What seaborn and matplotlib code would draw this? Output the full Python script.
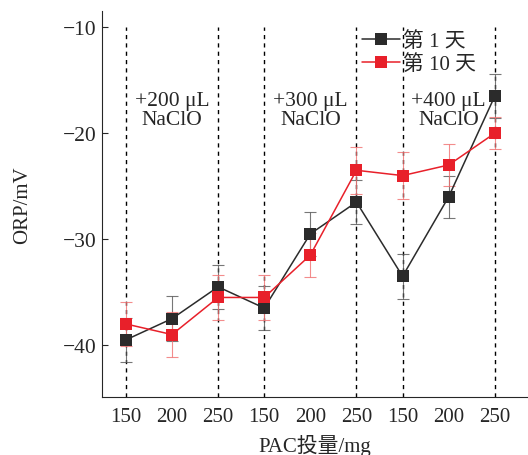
import matplotlib
matplotlib.use("Agg")
import matplotlib.pyplot as plt
import seaborn as sns
import numpy as np
import pandas as pd

tick_labels = ["150", "200", "250", "150", "200", "250", "150", "200", "250"]
day1 = [-39.5, -37.5, -34.5, -36.5, -29.5, -26.5, -33.5, -26.0, -16.5]
day1_err = [2.1, 2.1, 2.1, 2.1, 2.1, 2.1, 2.1, 2.0, 2.1]
day10 = [-38.0, -39.0, -35.5, -35.5, -31.5, -23.5, -24.0, -23.0, -20.0]
day10_err = [2.1, 2.1, 2.1, 2.1, 2.1, 2.2, 2.2, 2.0, 1.5]
series_names = ["第 1 天", "第 10 天"]
annotations = ["+200 μL\nNaClO", "+300 μL\nNaClO", "+400 μL\nNaClO"]
annot_pos = [1, 4, 7]
dashed_pos = [0, 2, 3, 5, 6, 8]

sns.set_style("ticks")
plt.rcParams['font.family'] = ['Liberation Serif', 'Noto Sans CJK SC']
plt.rcParams['axes.unicode_minus'] = True

x = np.arange(len(tick_labels))
df = pd.DataFrame({
    "x": np.concatenate([x, x]),
    "y": day1 + day10,
    "s": [series_names[0]] * len(x) + [series_names[1]] * len(x),
})

fig = plt.figure(figsize=(5.28, 4.56), dpi=100)
ax = fig.add_axes([0.193, 0.127, 0.807, 0.846])

ylo, yhi = -44.9, -8.5
ax.vlines(dashed_pos, ylo, -10, colors="black", linestyles=(0, (3, 3)), linewidth=1.0, zorder=1)

colors = {series_names[0]: "#2b2b2b", series_names[1]: "#e8202a"}
ax.errorbar(x, day1, yerr=day1_err, fmt="none", ecolor="#555555", elinewidth=0.8,
            capsize=4, capthick=0.8, alpha=0.8, zorder=2)
ax.errorbar(x, day10, yerr=day10_err, fmt="none", ecolor="#f07070", elinewidth=0.8,
            capsize=4, capthick=0.8, alpha=0.8, zorder=2)

sns.lineplot(data=df, x="x", y="y", hue="s", style="s", markers=["s", "s"], dashes=False,
             palette=colors, markersize=8, linewidth=1.1, markeredgewidth=0,
             ax=ax, zorder=3)

for p, t in zip(annot_pos, annotations):
    ax.text(p, -17.8, t, ha="center", va="center", fontsize=15.5, linespacing=0.95)

ax.set_xlim(-0.52, 8.72)
ax.set_ylim(ylo, yhi)
ax.set_xticks(x)
ax.set_xticklabels(tick_labels)
ax.set_yticks([-10, -20, -30, -40])
ax.tick_params(axis="x", length=0, labelsize=15, pad=7)
ax.tick_params(axis="y", direction="in", length=4, labelsize=15.5, pad=4)
ax.set_xlabel("PAC投量/mg", fontsize=15, labelpad=6)
ax.set_ylabel("ORP/mV", fontsize=15, labelpad=22)
sns.despine(ax=ax)

leg = ax.legend(loc="upper left", bbox_to_anchor=(0.61, 0.948), frameon=False,
                fontsize=15, handlelength=1.85, handletextpad=0.15, labelspacing=0.15,
                borderpad=0, borderaxespad=0)

fig.savefig("out.png", dpi=100)
